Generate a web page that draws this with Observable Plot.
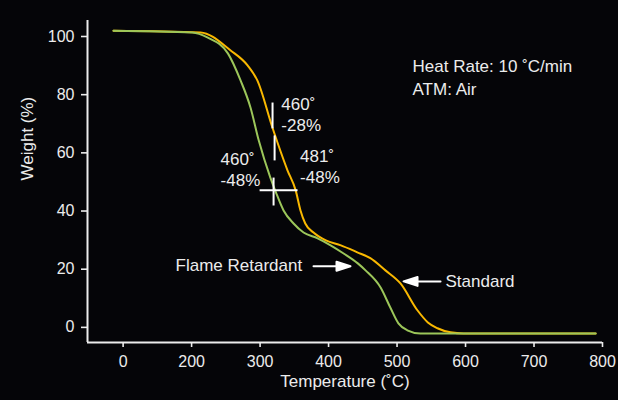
<!DOCTYPE html>
<html><head><meta charset="utf-8">
<script src="https://cdn.jsdelivr.net/npm/d3@7"></script>
<script src="https://cdn.jsdelivr.net/npm/@observablehq/plot@0.6"></script>
<style>
html,body{margin:0;padding:0;background:#050508;}
</style></head><body><div id="chart"></div>
<script>
// Standard sample (yellow)
const standardTemp   = [86, 213, 257, 282, 296, 318, 340, 352, 359, 366, 378, 396, 418, 442, 461, 483, 505, 530, 545, 559, 578, 597, 790];
const standardWeight = [102, 101.4, 95.2, 90, 84.9, 68.7, 54, 47.1, 40.2, 35.7, 32.6, 29.9, 28.2, 25.8, 23.8, 19.6, 15.1, 5.8, 1.7, -0.3, -1.7, -2.1, -2.1];
// Flame retardant sample (green)
const flameTemp   = [86, 201, 223, 253, 271.5, 286, 298, 315, 323, 334.3, 348.9, 363.5, 384, 403, 422, 442.7, 454, 476, 490, 502, 515, 534, 790];
const flameWeight = [102, 101.4, 99.7, 94.2, 84.9, 75.6, 64.3, 51.5, 46.5, 40.2, 35.7, 32.6, 30.6, 28.2, 25.4, 22, 19.6, 13.7, 6.9, 1.4, -1, -2.1, -2.1];

const xDomain = [48, 800];
const yDomain = [-5.2, 105.5];
const xTicks = [100, 200, 300, 400, 500, 600, 700, 800];
const xTickLabels = ["0", "200", "300", "400", "500", "600", "700", "800"];
const yTicks = [0, 20, 40, 60, 80, 100];

// annotation marker segments (data units)
const markSegments = [
  {x1: 318.2, y1: 77.3, x2: 318.2, y2: 68.4},
  {x1: 321.2, y1: 66.0, x2: 321.2, y2: 57.4},
  {x1: 319.7, y1: 51.5, x2: 319.7, y2: 41.9},
  {x1: 299.3, y1: 47.1, x2: 354.7, y2: 47.1}
];
const markLabels = [
  {x: 331, y: 73.5, text: "460˚\n-28%"},
  {x: 242.3, y: 54.5, text: "460˚\n-48%"},
  {x: 358.4, y: 55.7, text: "481˚\n-48%"}
];
const noteLabels = [{x: 522.6, y: 86.3, text: "Heat Rate: 10 ˚C/min\nATM: Air"}];
const seriesLabels = [
  {x: 176.6, y: 21.1, text: "Flame Retardant"},
  {x: 570.8, y: 15.6, text: "Standard"}
];
const arrows = [
  {x: 378, y: 21.0, rotate: 90},
  {x: 563.5, y: 15.8, rotate: -90}
];

const standard = standardTemp.map((t, i) => ({t, w: standardWeight[i]}));
const flame = flameTemp.map((t, i) => ({t, w: flameWeight[i]}));

const fg = "#ececec";
const arrowShape = {
  draw(context, l) {
    const h = 14, w = 4.5;
    context.moveTo(0, 0);
    context.lineTo(0, -l + h);
    context.moveTo(-w, -l + h);
    context.lineTo(0, -l);
    context.lineTo(w, -l + h);
    context.closePath();
  }
};

const chart = Plot.plot({
  width: 618,
  height: 400,
  marginLeft: 87,
  marginRight: 16,
  marginTop: 20,
  marginBottom: 58,
  style: {background: "#050508", color: fg, fontFamily: "'Liberation Sans', Arial, sans-serif", fontSize: "17px"},
  x: {domain: xDomain},
  y: {domain: yDomain},
  marks: [
    Plot.axisY({ticks: yTicks, tickSize: 6, tickPadding: 7, stroke: fg, strokeWidth: 1.6, label: null, fontSize: 16}),
    Plot.axisX({ticks: xTicks, tickFormat: d => xTickLabels[xTicks.indexOf(d)], tickSize: 5, tickPadding: 8, stroke: fg, strokeWidth: 1.6, label: null, fontSize: 16}),
    Plot.ruleX([xDomain[0]], {stroke: fg, strokeWidth: 2}),
    Plot.ruleY([yDomain[0]], {stroke: fg, strokeWidth: 2}),
    Plot.line(standard, {x: "t", y: "w", stroke: "#F9B800", strokeWidth: 2, curve: "monotone-x"}),
    Plot.line(flame, {x: "t", y: "w", stroke: "#9CC65A", strokeWidth: 2, curve: "monotone-x"}),
    Plot.link(markSegments, {x1: "x1", y1: "y1", x2: "x2", y2: "y2", stroke: "#ffffff", strokeWidth: 2}),
    Plot.text(markLabels, {x: "x", y: "y", text: "text", textAnchor: "start", lineHeight: 1.25, fill: fg, fontSize: 17}),
    Plot.text(noteLabels, {x: "x", y: "y", text: "text", textAnchor: "start", lineHeight: 1.35, fill: fg, fontSize: 17}),
    Plot.text(seriesLabels, {x: "x", y: "y", text: "text", textAnchor: "start", fill: fg, fontSize: 17}),
    Plot.vector(arrows, {x: "x", y: "y", rotate: "rotate", length: 37, anchor: "start", shape: arrowShape, stroke: "#ffffff", fill: "#ffffff", strokeWidth: 2}),
    Plot.text(["Temperature (˚C)"], {frameAnchor: "bottom", dy: 44, fill: fg, fontSize: 17}),
    Plot.text(["Weight (%)"], {frameAnchor: "left", dx: -59.5, dy: -1, rotate: -90, fill: fg, fontSize: 17})
  ]
});
document.getElementById("chart").appendChild(chart);
</script>
</body></html>
